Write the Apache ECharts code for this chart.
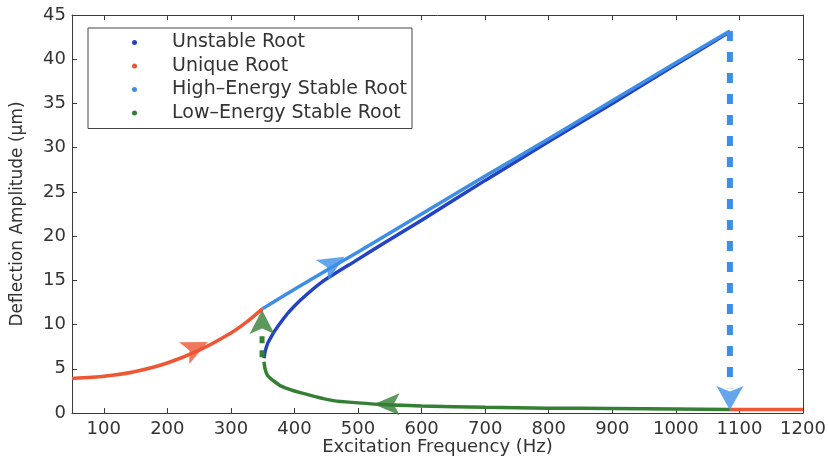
<!DOCTYPE html>
<html>
<head>
<meta charset="utf-8">
<script src="https://cdn.jsdelivr.net/npm/echarts@6/dist/echarts.min.js"></script>
<style>html,body{margin:0;padding:0;background:#fff}#c{width:828px;height:458px}</style>
</head>
<body>
<div id="c"></div>
<script>
// ---- data ----
const xTicks = [100, 200, 300, 400, 500, 600, 700, 800, 900, 1000, 1100, 1200];

const uniqueFreq = [50, 100, 150, 200, 250, 300, 325, 350];
const uniqueAmp  = [3.9, 4.15, 4.7, 5.65, 7.1, 9.05, 10.3, 11.8];
const uniqueTailFreq = [1085, 1200];
const uniqueTailAmp  = [0.4, 0.4];

const highFreq = [350, 400, 500, 600, 700, 800, 900, 1000, 1085];
const highAmp  = [11.8, 14.0, 18.2, 22.5, 26.8, 31.0, 35.3, 39.6, 43.2];

const unstableFreq = [352, 354, 358, 364, 370, 380, 391, 410, 443, 496, 543, 600, 700, 800, 900, 1000, 1085];
const unstableAmp  = [6.2, 7.0, 7.9, 8.7, 9.4, 10.4, 11.4, 12.8, 14.8, 17.2, 19.3, 21.8, 26.3, 30.7, 35.0, 39.4, 43.1];

const lowFreq = [352, 354, 358, 366, 380, 409, 461, 540, 600, 700, 800, 900, 1000, 1085];
const lowAmp  = [5.8, 4.9, 4.2, 3.7, 3.0, 2.3, 1.4, 0.95, 0.8, 0.65, 0.55, 0.5, 0.45, 0.4];

const jumpUpFreq = [349, 349];
const jumpUpAmp  = [6.3, 9.3];
const jumpDownFreq = [1085, 1085];
const jumpDownAmp  = [43.2, 2.8];

// arrow heads: [freq, amplitude]
const arrowUnique = [245, 7.4];
const arrowHigh   = [461, 16.9];
const arrowJumpUp = [349, 10.3];
const arrowLow    = [545, 1.0];
const arrowJumpDown = [1085, 1.7];

const names = ['Unstable Root', 'Unique Root', 'High\u2013Energy Stable Root', 'Low\u2013Energy Stable Root'];

function pairs(xs, ys) { return xs.map((x, i) => [x, ys[i]]); }

const C_UNST = '#2443c4', C_UNIQ = '#ee5634', C_HIGH = '#3f8ee6', C_LOW = '#347f34';
const FONT = 'DejaVu Sans, Verdana, sans-serif';
const TXT = '#333';
const ARROW = 'path://M10,0 L20,22 L10,17 L0,22 Z';

const lineS = (name, data, color, z) => ({
  name, type: 'line', data, showSymbol: false, smooth: 0.2, color,
  lineStyle: { width: 3.5, color }, z, silent: true, animation: false
});
const arrowS = (pt, color, rot, size) => ({
  type: 'scatter', data: [pt], symbol: ARROW, symbolSize: size, symbolRotate: rot,
  itemStyle: { color }, z: 10, silent: true, animation: false
});

const chart = echarts.init(document.getElementById('c'), null, { renderer: 'canvas' });
const axisLineStyle = { color: '#3a3a3a', width: 1 };
const plain = v => String(v);
chart.setOption({
  animation: false,
  backgroundColor: '#fff',
  textStyle: { fontFamily: FONT },
  grid: { left: 72, right: 25, top: 15, bottom: 45, containLabel: false, outerBoundsMode: 'none' },
  legend: {
    data: names, orient: 'vertical', left: 88, top: 28,
    padding: [5, 5, 6, 44], itemWidth: 5, itemHeight: 5, itemGap: 4.5,
    icon: 'circle', borderColor: '#444', borderWidth: 1, backgroundColor: '#fff',
    textStyle: { fontSize: 19, color: TXT, fontFamily: FONT, lineHeight: 18, padding: [0, 0, 0, 30] },
    selectedMode: false
  },
  xAxis: [{
    type: 'value', min: 50, max: 1200, position: 'bottom',
    name: 'Excitation Frequency (Hz)', nameLocation: 'middle', nameGap: 25, nameMoveOverlap: false,
    nameTextStyle: { fontSize: 18, color: TXT },
    axisLine: { onZero: false, lineStyle: axisLineStyle },
    axisTick: { inside: true, length: 5, customValues: xTicks, lineStyle: axisLineStyle },
    axisLabel: { customValues: xTicks, fontSize: 18, color: TXT, margin: 7, formatter: plain },
    splitLine: { show: false }
  }, {
    type: 'value', min: 50, max: 1200, position: 'top',
    axisLine: { show: true, onZero: false, lineStyle: axisLineStyle },
    axisTick: { inside: true, length: 5, customValues: xTicks, lineStyle: axisLineStyle },
    axisLabel: { show: false }, splitLine: { show: false }
  }],
  yAxis: [{
    type: 'value', min: 0, max: 45, interval: 5, position: 'left',
    name: 'Deflection Amplitude (\u03bcm)', nameLocation: 'middle', nameGap: 46, nameMoveOverlap: false,
    nameTextStyle: { fontSize: 17, color: TXT },
    axisLine: { show: true, onZero: false, lineStyle: axisLineStyle },
    axisTick: { inside: true, length: 5, lineStyle: axisLineStyle },
    axisLabel: { fontSize: 18, color: TXT, margin: 6, formatter: plain },
    splitLine: { show: false }
  }, {
    type: 'value', min: 0, max: 45, interval: 5, position: 'right',
    axisLine: { show: true, onZero: false, lineStyle: axisLineStyle },
    axisTick: { inside: true, length: 5, lineStyle: axisLineStyle },
    axisLabel: { show: false }, splitLine: { show: false }
  }],
  series: [
    lineS(names[0], pairs(unstableFreq, unstableAmp), C_UNST, 2),
    lineS(names[1], pairs(uniqueFreq, uniqueAmp), C_UNIQ, 3),
    lineS(names[1], pairs(uniqueTailFreq, uniqueTailAmp), C_UNIQ, 3),
    lineS(names[2], pairs(highFreq, highAmp), C_HIGH, 4),
    lineS(names[3], pairs(lowFreq, lowAmp), C_LOW, 4),
    {
      type: 'line', data: pairs(jumpUpFreq, jumpUpAmp), showSymbol: false, silent: true,
      lineStyle: { width: 5, color: C_LOW, type: [7, 7] }, z: 5
    },
    {
      type: 'line', data: pairs(jumpDownFreq, jumpDownAmp), showSymbol: false, silent: true,
      lineStyle: { width: 6, color: C_HIGH, type: [10, 11] }, z: 5
    },
    arrowS(arrowUnique, C_UNIQ, -65, [24, 26]),
    arrowS(arrowHigh, C_HIGH, -59, [24, 26]),
    arrowS(arrowJumpUp, C_LOW, 0, [25, 24]),
    arrowS(arrowLow, C_LOW, 90, [22, 26]),
    arrowS(arrowJumpDown, C_HIGH, 180, [27, 24])
  ]
});
</script>
</body>
</html>
